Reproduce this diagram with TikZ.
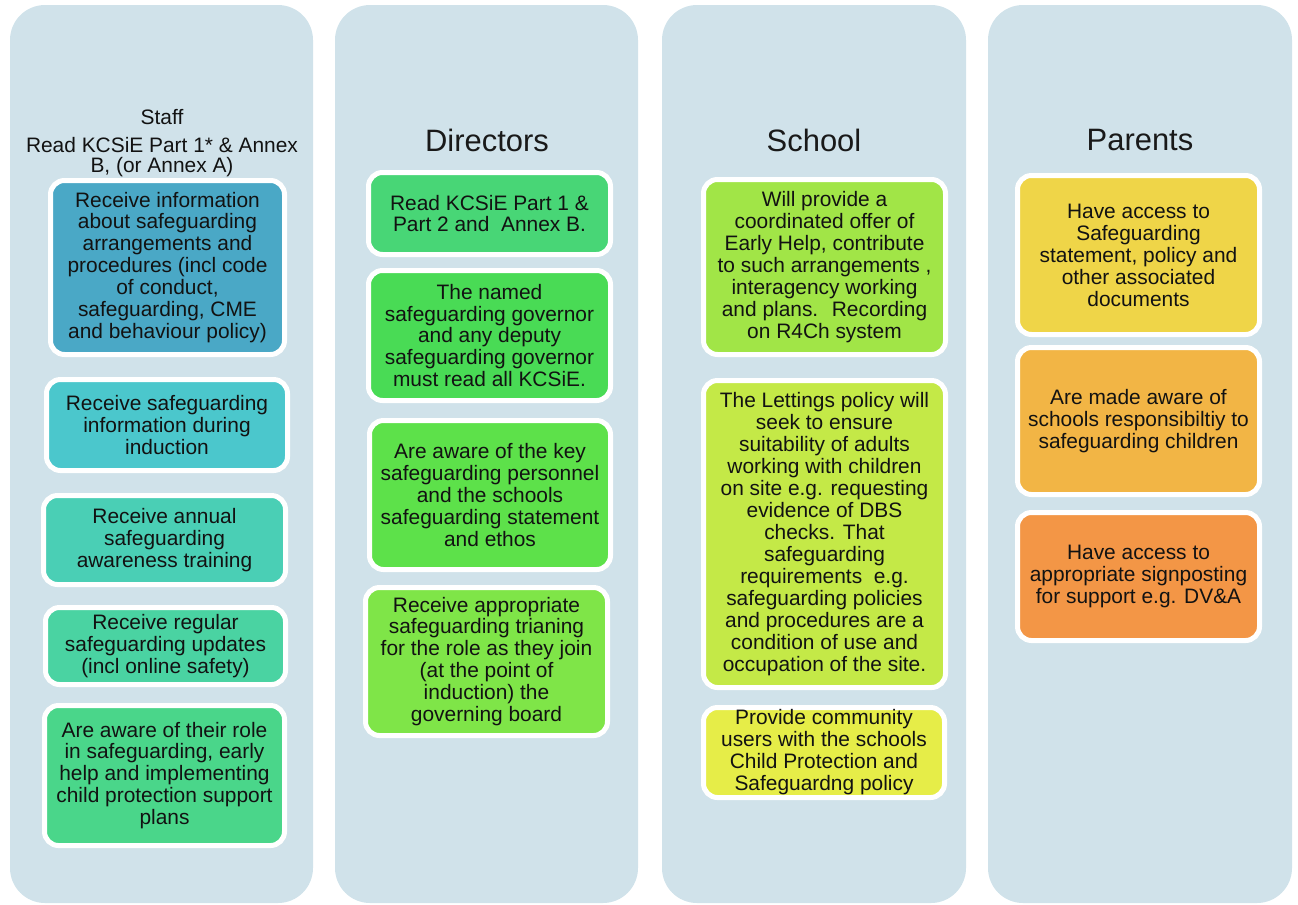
\documentclass[tikz,border=0pt]{standalone}
\usepackage{fontspec}
\setmainfont{Liberation Sans}
\usetikzlibrary{positioning}

\definecolor{colbg}{HTML}{D0E2EA}
\definecolor{staffA}{HTML}{4AA8C6}
\definecolor{staffB}{HTML}{4BC7CC}
\definecolor{staffC}{HTML}{4ACFB5}
\definecolor{staffD}{HTML}{4AD3A2}
\definecolor{staffE}{HTML}{4AD68A}
\definecolor{dirA}{HTML}{48D676}
\definecolor{dirB}{HTML}{49DB55}
\definecolor{dirC}{HTML}{5DE14A}
\definecolor{dirD}{HTML}{7FE548}
\definecolor{schA}{HTML}{A1E547}
\definecolor{schB}{HTML}{C4E947}
\definecolor{schC}{HTML}{E6ED48}
\definecolor{parA}{HTML}{EFD548}
\definecolor{parB}{HTML}{F2B545}
\definecolor{parC}{HTML}{F39646}

\tikzset{
  column/.style={fill=colbg, rounded corners=0.7cm},
  heading/.style={font=\fontsize{17.6}{20}\selectfont, text=black!90},
  body/.style={font=\fontsize{11.9}{12.5}\selectfont, text=black!93, align=center},
  card/.style={body, draw=white, line width=0.1cm, rounded corners=0.28cm, inner sep=0pt},
  wh/.style 2 args={minimum width=#1*0.02cm, minimum height=#2*0.02cm}
}

\begin{document}
\begin{tikzpicture}[x=0.02cm, y=-0.02cm]

\useasboundingbox (0, 0) rectangle (1298, 904);

% Columns
\fill[column] (10, 5) rectangle (313, 903);
\fill[column] (335, 5) rectangle (638, 903);
\fill[column] (662, 5) rectangle (966, 903);
\fill[column] (988, 5) rectangle (1292, 903);

% Headers
\node[body] (staff) at (162, 117) {Staff};
\node[body, font=\fontsize{11.9}{11.3}\selectfont] (staffread) at (162, 157) {Read KCSiE Part 1* \& Annex\\B, (or Annex A)};
\node[heading] (directors) at (487, 140) {Directors};
\node[heading] (school) at (814, 140) {School};
\node[heading] (parents) at (1140, 140) {Parents};

% Staff
\node[card, fill=staffA, wh={234}{174}] (staffa) at (167.5, 267.5) {Receive information\\about safeguarding\\arrangements and\\procedures (incl code\\of conduct,\\safeguarding, CME\\and behaviour policy)};
\node[card, fill=staffB, wh={241}{91}] (staffb) at (167, 425) {Receive safeguarding\\information during\\induction};
\node[card, fill=staffC, wh={242}{89}] (staffc) at (164.5, 540) {Receive annual\\safeguarding\\awareness training};
\node[card, fill=staffD, wh={240}{77}] (staffd) at (165.5, 646) {Receive regular\\safeguarding updates\\(incl online safety)};
\node[card, fill=staffE, wh={240}{140}] (staffe) at (164.5, 775.5) {Are aware of their role\\in safeguarding, early\\help and implementing\\child protection support\\plans};

% Directors
\node[card, fill=dirA, wh={242}{82}] (dira) at (489.5, 213.5) {Read KCSiE Part 1 \&\\Part 2 and \ Annex B.};
\node[card, fill=dirB, wh={242}{130}] (dirb) at (489.5, 335.5) {The named\\safeguarding governor\\and any deputy\\safeguarding governor\\must read all KCSiE.};
\node[card, fill=dirC, wh={241}{149}] (dirc) at (490, 495) {Are aware of the key\\safeguarding personnel\\and the schools\\safeguarding statement\\and ethos};
\node[card, fill=dirD, wh={242}{148}] (dird) at (486.5, 661.5) {Receive appropriate\\safeguarding trianing\\for the role as they join\\(at the point of\\induction) the\\governing board};

% School
\node[card, fill=schA, wh={242}{175}] (scha) at (824.5, 267) {Will provide a\\coordinated offer of\\Early Help, contribute\\to such arrangements ,\\interagency working\\and plans. \ Recording\\on R4Ch system};
\node[card, fill=schB, wh={242}{307}] (schb) at (824.5, 534) {The Lettings policy will\\seek to ensure\\suitability of adults\\working with children\\on site e.g. requesting\\evidence of DBS\\checks. That\\safeguarding\\requirements \ e.g.\\safeguarding policies\\and procedures are a\\condition of use and\\occupation of the site.};
\node[card, fill=schC, wh={241}{90}] (schc) at (824, 752.5) {Provide community\\users with the schools\\Child Protection and\\Safeguardng policy};

% Parents
\node[card, fill=parA, wh={242}{159}] (para) at (1138.5, 255) {Have access to\\Safeguarding\\statement, policy and\\other associated\\documents};
\node[card, fill=parB, wh={242}{147}] (parb) at (1138.5, 421) {Are made aware of\\schools responsibiltiy to\\safeguarding children};
\node[card, fill=parC, wh={242}{128}] (parc) at (1138.5, 576.5) {Have access to\\appropriate signposting\\for support e.g. DV\&A};

\end{tikzpicture}
\end{document}
